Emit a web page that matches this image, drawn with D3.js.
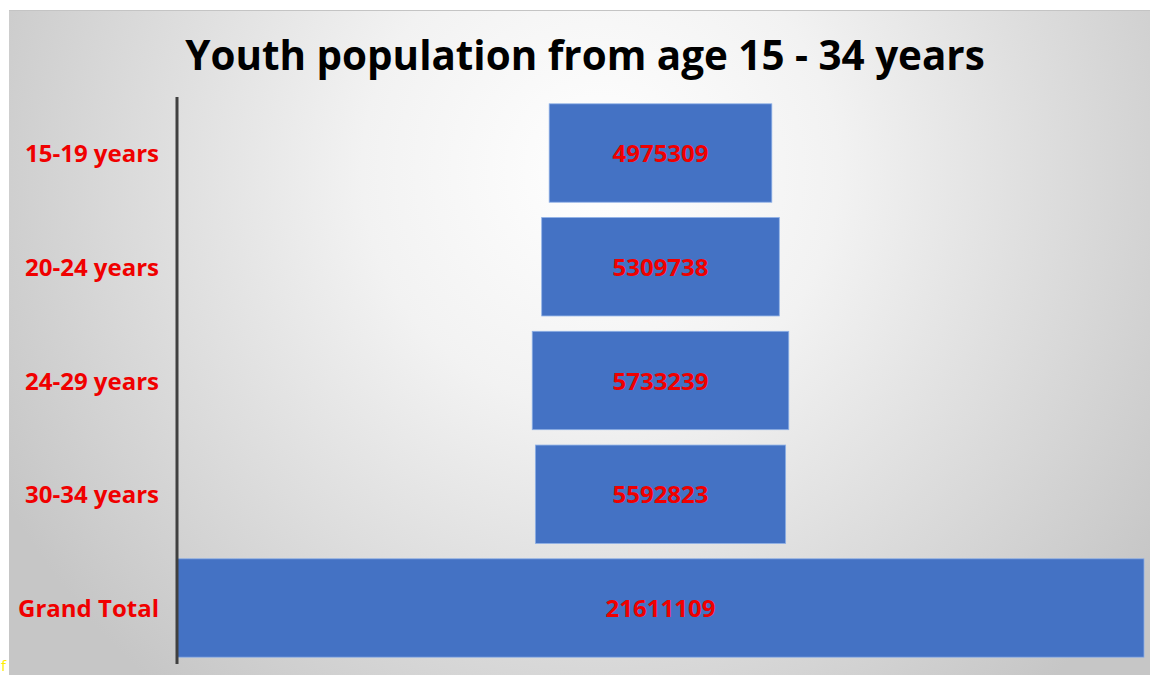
<!DOCTYPE html>
<html>
<head>
<meta charset="utf-8">
<script src="https://cdn.jsdelivr.net/npm/d3@7"></script>
<style>
  html, body { margin: 0; padding: 0; background: #ffffff; }
  svg { display: block; }
</style>
</head>
<body>
<script>
const categories = ["15-19 years", "20-24 years", "24-29 years", "30-34 years", "Grand Total"];
const values = [4975309, 5309738, 5733239, 5592823, 21611109];
const title = "Youth population from age 15 - 34 years";

const W = 1150, H = 675;
const svg = d3.select("body").append("svg").attr("width", W).attr("height", H);

const defs = svg.append("defs");
const grad = defs.append("radialGradient")
  .attr("id", "bg").attr("gradientUnits", "userSpaceOnUse")
  .attr("cx", 600).attr("cy", 170).attr("r", 680);
grad.append("stop").attr("offset", "0%").attr("stop-color", "#ffffff");
grad.append("stop").attr("offset", "35%").attr("stop-color", "#f2f2f2");
grad.append("stop").attr("offset", "100%").attr("stop-color", "#c6c6c6");

// panel
svg.append("rect").attr("x", 9).attr("y", 10).attr("width", W - 9).attr("height", H - 10)
  .attr("fill", "url(#bg)");
svg.append("line").attr("x1", 9).attr("x2", W).attr("y1", 10.5).attr("y2", 10.5)
  .attr("stroke", "#c4c4c4").attr("stroke-width", 1);

const axisX = 177, rightX = 1144;
const cx = (axisX + rightX) / 2;

const x = d3.scaleLinear().domain([0, d3.max(values)]).range([0, rightX - axisX]);
const y = d3.scaleBand().domain(categories).range([97, 664]).paddingInner(0.135).paddingOuter(0.06);

const font = "'Open Sans', 'DejaVu Sans', sans-serif";

// title
const t = svg.append("text").attr("x", 585).attr("y", 70).attr("text-anchor", "middle")
  .attr("font-family", font).attr("font-weight", 700).attr("font-size", 40)
  .attr("fill", "#000").text(title);
const tw = t.node().getComputedTextLength();
t.attr("font-size", 40 * 800 / tw);

// bars
svg.append("g").selectAll("rect").data(values).join("rect")
  .attr("x", d => cx - x(d) / 2)
  .attr("y", (d, i) => y(categories[i]))
  .attr("width", d => x(d))
  .attr("height", y.bandwidth())
  .attr("fill", "#4472c4")
  .attr("stroke", "#8eb0e6").attr("stroke-width", 0.8);

// value labels
svg.append("g").selectAll("text").data(values).join("text")
  .attr("x", cx)
  .attr("y", (d, i) => y(categories[i]) + y.bandwidth() / 2)
  .attr("dy", "0.38em")
  .attr("text-anchor", "middle")
  .attr("font-family", font).attr("font-weight", 700).attr("font-size", 24)
  .attr("fill", "#f00000")
  .text(d => d);

// category axis
const axis = d3.axisLeft(y).tickSize(0).tickPadding(18);
const ga = svg.append("g").attr("transform", `translate(${axisX},0)`).call(axis);
ga.select(".domain").attr("d", `M0,97V664`).attr("stroke", "#404040").attr("stroke-width", 3);
ga.selectAll(".tick text")
  .attr("dy", "0.38em")
  .attr("font-family", font).attr("font-weight", 700).attr("font-size", 24)
  .attr("fill", "#f00000");

// small yellow mark at bottom-left
svg.append("text").attr("x", 1).attr("y", 671).attr("font-family", font)
  .attr("font-size", 15).attr("fill", "#ffee00").text("f");
</script>
</body>
</html>
